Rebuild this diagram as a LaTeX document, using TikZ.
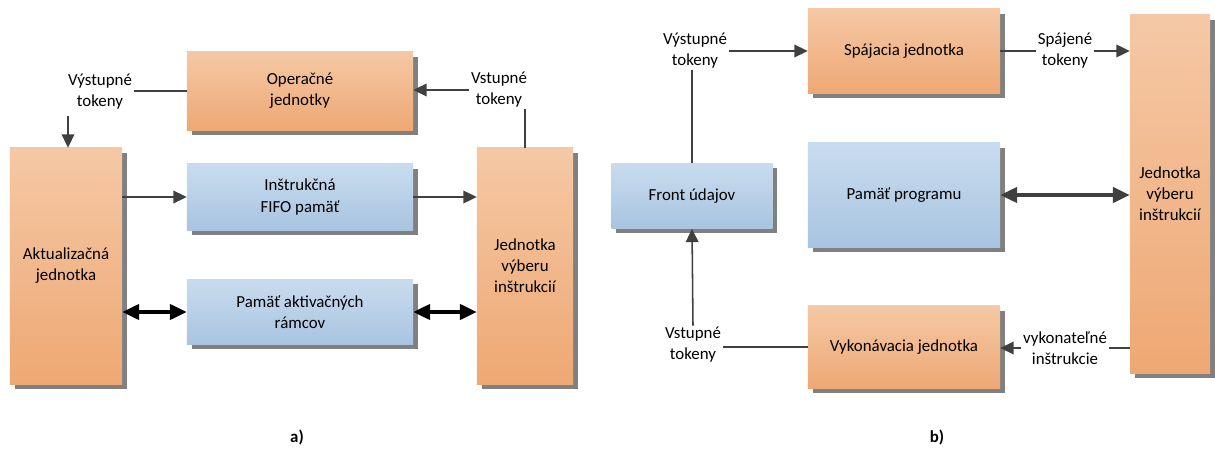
\documentclass[tikz,border=0pt]{standalone}
\usepackage{fontspec}
\setmainfont{Carlito}
\usetikzlibrary{arrows.meta,shadows}
\definecolor{orangetop}{HTML}{F5C8A5}
\definecolor{orangebot}{HTML}{EEA874}
\definecolor{bluetop}{HTML}{C9DCEE}
\definecolor{bluebot}{HTML}{A8C4E0}
\definecolor{arrgray}{HTML}{404040}

\begin{document}
\begin{tikzpicture}[x=0.025cm, y=-0.025cm,
    font=\fontsize{12}{15}\selectfont,
    unit/.style={top color=orangetop, bottom color=orangebot, inner sep=0pt, align=center,
      drop shadow={shadow xshift=3.5pt, shadow yshift=-3.5pt, fill=black!50, opacity=1}},
    mem/.style={unit, top color=bluetop, bottom color=bluebot},
    lbl/.style={align=center, inner sep=1pt},
    ln/.style={draw=arrgray, line width=1.1pt},
    arr/.style={ln, -{Triangle[length=9.5pt,width=9pt]}},
    dbl/.style={line width=2.2pt, {Triangle[length=12pt,width=11pt]}-{Triangle[length=12pt,width=11pt]}}]
  \useasboundingbox (0,0) rectangle (1215,459);
  %\draw [help lines] (0,0) grid[step=1cm] (1215,459);
  % a)
  \node[unit, minimum width=5.65cm, minimum height=1.95cm] (ope) at (300,91) {Operačné\\jednotky};
  \node[unit, minimum width=2.8cm, minimum height=5.9cm] (akt) at (66,266) {Aktualizačná\\jednotka};
  \node[mem, minimum width=5.65cm, minimum height=1.65cm] (fifo) at (300,197) {Inštrukčná\\FIFO pamäť};
  \node[mem, minimum width=5.65cm, minimum height=1.625cm] (ram) at (300,312) {Pamäť aktivačných\\rámcov};
  \node[unit, minimum width=2.4cm, minimum height=5.9cm] (vyb) at (525,266) {Jednotka\\výberu\\inštrukcií};
  \node[lbl] (outa) at (100,92) {Výstupné\\tokeny};
  \node[lbl] (ina) at (499,90) {Vstupné\\tokeny};
  \coordinate (adown) at (68,116);
  \draw[ln] (ope.west) -- (ope.west -| outa.east);
  \draw[arr] (adown) -- (adown |- akt.north);
  \draw[arr] (ina.west) -- (ope.east |- ina.west);
  \draw[ln] (vyb.north) -- (vyb.north |- ina.south);
  \draw[arr] (akt.east |- fifo) -- (fifo);
  \draw[arr] (fifo) -- (fifo -| vyb.west);
  \draw[dbl] (akt.east |- ram) -- (ram);
  \draw[dbl] (ram) -- (ram -| vyb.west);
  \node[font=\fontsize{12}{15}\selectfont\bfseries] (capa) at (297,438) {a)};
  % b)
  \node[unit, minimum width=4.8cm, minimum height=2.1cm] (spa) at (904,51) {Spájacia jednotka};
  \node[mem, minimum width=4.025cm, minimum height=1.625cm] (front) at (692,196) {Front údajov};
  \node[mem, minimum width=4.8cm, minimum height=2.6cm] (prog) at (904,195) {Pamäť programu};
  \node[unit, minimum width=4.8cm, minimum height=2.05cm] (vyk) at (904,347) {Vykonávacia jednotka};
  \node[unit, minimum width=2cm, minimum height=8.95cm] (vybb) at (1170,194) {Jednotka\\výberu\\inštrukcií};
  \node[lbl] (outb) at (695,51) {Výstupné\\tokeny};
  \node[lbl] (joined) at (1065,51) {Spájené\\tokeny};
  \node[lbl] (inb) at (693,345) {Vstupné\\tokeny};
  \node[lbl] (exe) at (1065,348) {vykonateľné\\inštrukcie};
  \draw[arr] (outb.east) -- (spa.west |- outb.east);
  \draw[ln] (front.north) -- (front.north |- outb.south);
  \draw[ln] (spa.east) -- (spa.east -| joined.west);
  \draw[arr] (joined.east) -- (joined.east -| vybb.west);
  \draw[dbl, draw=arrgray] (prog.east) -- (prog.east -| vybb.west);
  \draw[ln] (vyk.west) -- (vyk.west -| inb.east);
  \draw[arr] (inb.north) -- (front.south);
  \draw[ln] (vybb.west |- exe.east) -- (exe.east);
  \draw[arr] (exe.west) -- (vyk.east |- exe.west);
  \node[font=\fontsize{12}{15}\selectfont\bfseries] (capb) at (937,438) {b)};
\end{tikzpicture}
\end{document}
